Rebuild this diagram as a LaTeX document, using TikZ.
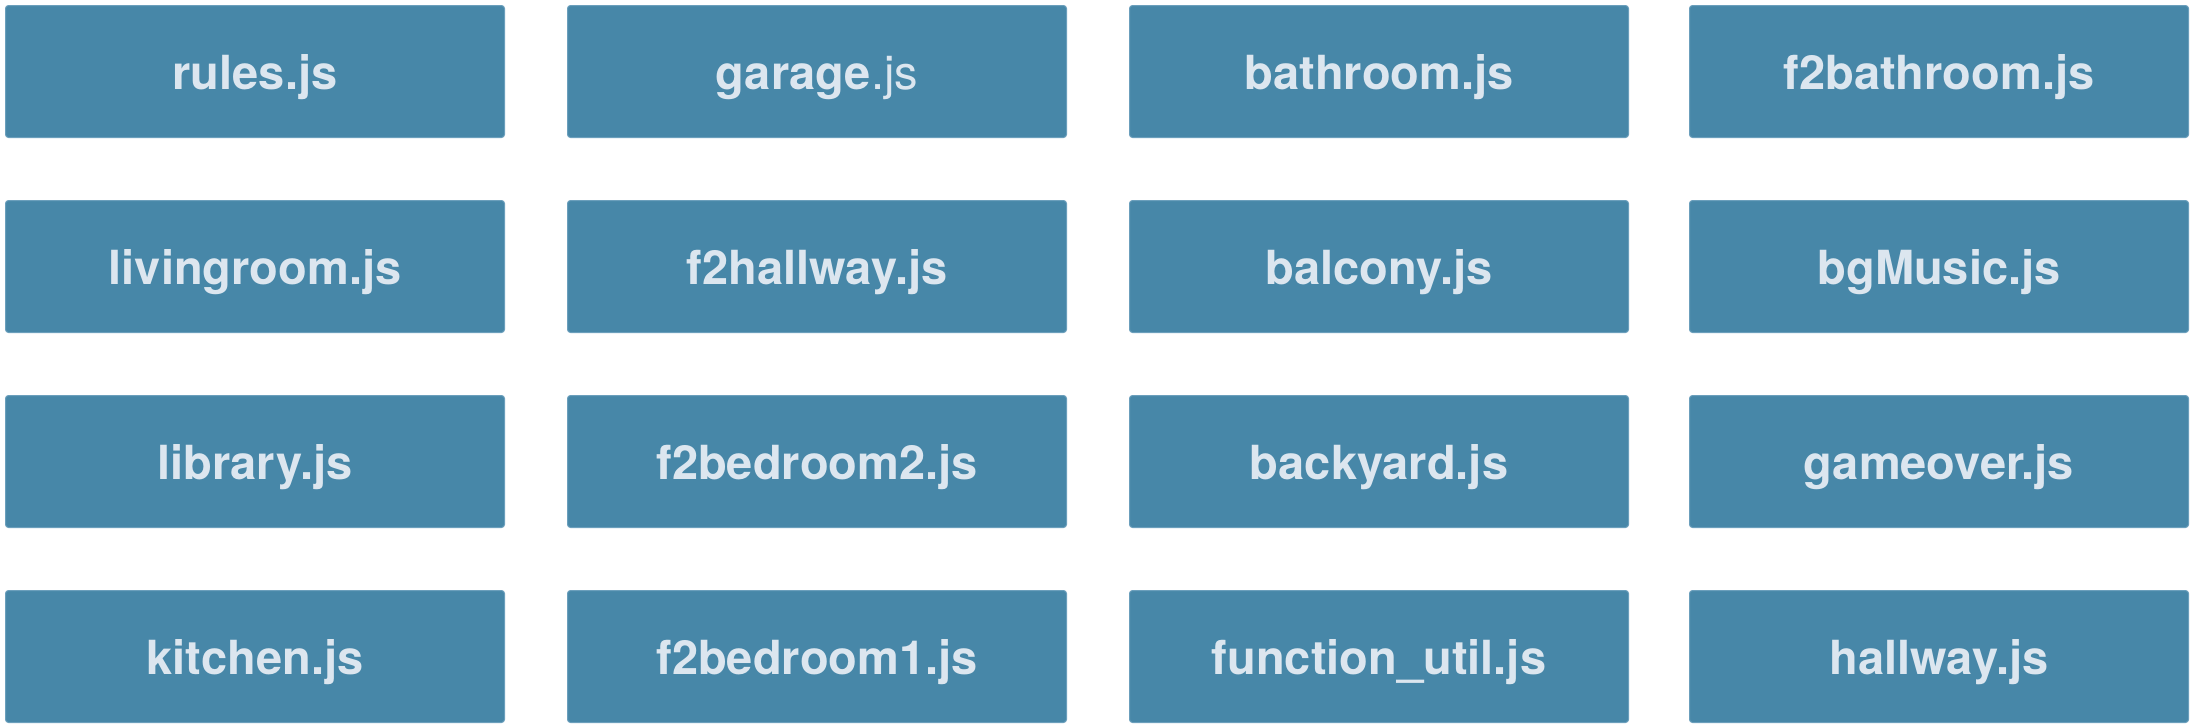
\documentclass[tikz,border=0pt]{standalone}
\usepackage{fontspec}
\setmainfont{TeX Gyre Heros}
\definecolor{boxfill}{HTML}{4787A8}
\definecolor{boxline}{HTML}{6B9FBC}
\definecolor{boxtext}{HTML}{DCE6EF}

\begin{document}
\begin{tikzpicture}[x=1pt, y=-1pt,
    filebox/.style={draw=boxline, line width=1pt, fill=boxfill, rounded corners=3pt,
      minimum width=499pt, minimum height=132pt, inner sep=0pt, text=boxtext,
      text height=45pt, text depth=10pt,
      font=\fontsize{47}{56}\selectfont\bfseries}]
  \useasboundingbox (0,0) rectangle (2196,728);
  % row 1
  \node[filebox] (rules)     at (255,71.5) {rules.js};
  \node[filebox] (garage)    at (817,71.5) {garage{\mdseries .js}};
  \node[filebox] (bathroom)  at (1379,71.5) {bathroom.js};
  \node[filebox] (fbathroom) at (1939,71.5) {f2bathroom.js};
  % row 2
  \node[filebox] (livingroom) at (255,266.5) {livingroom.js};
  \node[filebox] (fhallway)   at (817,266.5) {f2hallway.js};
  \node[filebox] (balcony)    at (1379,266.5) {balcony.js};
  \node[filebox] (bgmusic)    at (1939,266.5) {bgMusic.js};
  % row 3
  \node[filebox] (library)    at (255,461.5) {library.js};
  \node[filebox] (fbedroomb)  at (817,461.5) {f2bedroom2.js};
  \node[filebox] (backyard)   at (1379,461.5) {backyard.js};
  \node[filebox] (gameover)   at (1939,461.5) {gameover.js};
  % row 4
  \node[filebox] (kitchen)    at (255,656.5) {kitchen.js};
  \node[filebox] (fbedrooma)  at (817,656.5) {f2bedroom1.js};
  \node[filebox] (funcutil)   at (1379,656.5) {function\_util.js};
  \node[filebox] (hallway)    at (1939,656.5) {hallway.js};
\end{tikzpicture}
\end{document}
